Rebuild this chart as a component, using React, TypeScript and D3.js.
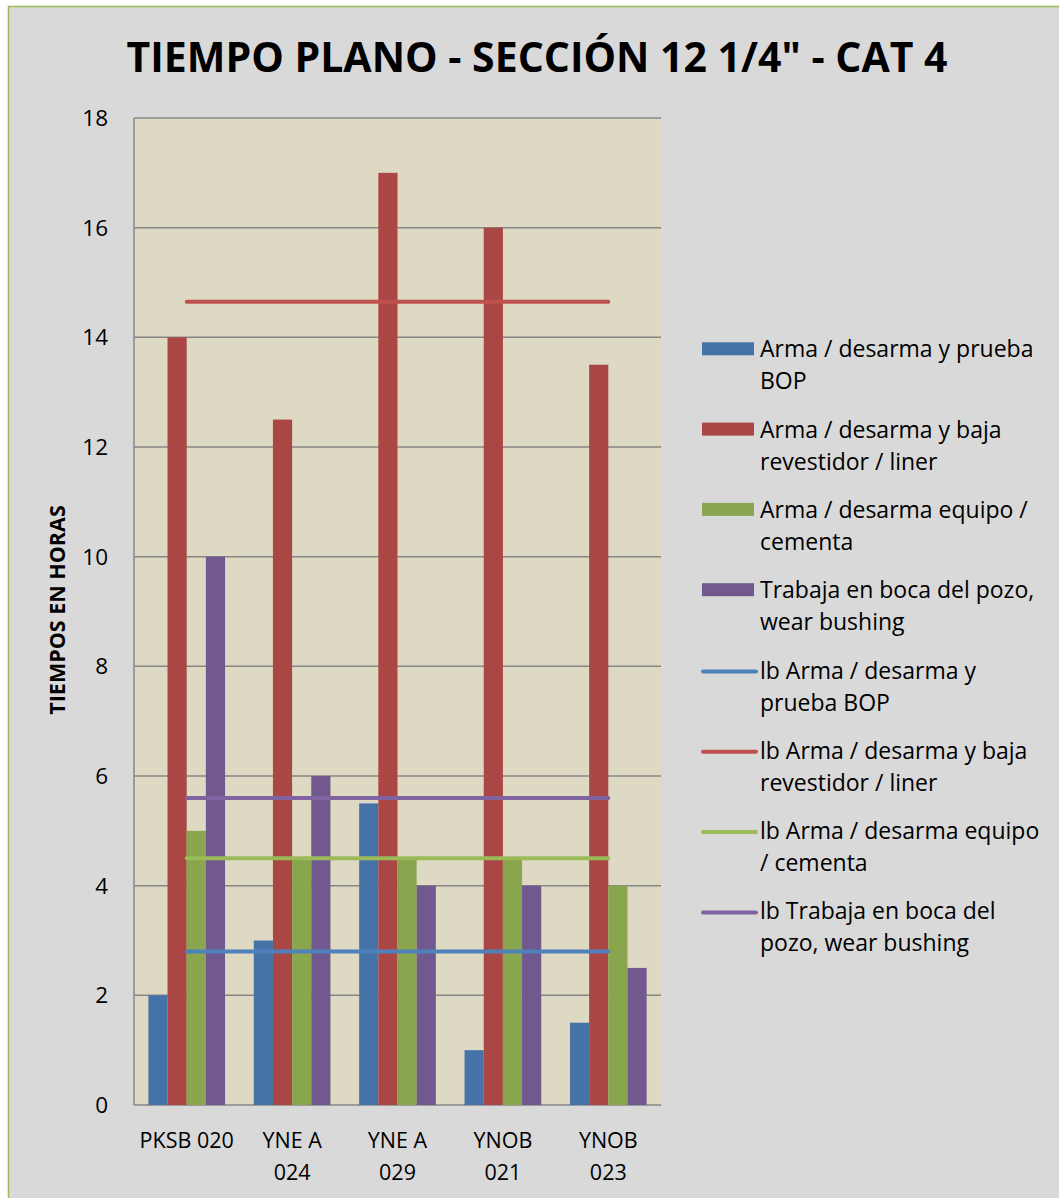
import React from "react";
import * as d3 from "d3";

const categories = ["PKSB 020", "YNE A 024", "YNE A 029", "YNOB 021", "YNOB 023"];
const categoryLines = [["PKSB 020"], ["YNE A", "024"], ["YNE A", "029"], ["YNOB", "021"], ["YNOB", "023"]];

const barSeriesNames = [
  "Arma / desarma y prueba BOP",
  "Arma / desarma y baja revestidor / liner",
  "Arma / desarma equipo / cementa",
  "Trabaja en boca del pozo, wear bushing",
];
const armaBOP = [2, 3, 5.5, 1, 1.5];
const armaRevestidor = [14, 12.5, 17, 16, 13.5];
const armaCementa = [5, 4.5, 4.5, 4.5, 4];
const trabajaBoca = [10, 6, 4, 4, 2.5];

const lineSeriesNames = [
  "lb Arma / desarma y prueba BOP",
  "lb Arma / desarma y baja revestidor / liner",
  "lb Arma / desarma equipo / cementa",
  "lb Trabaja en boca del pozo, wear bushing",
];
const lbArmaBOP = [2.8, 2.8, 2.8, 2.8, 2.8];
const lbArmaRevestidor = [14.65, 14.65, 14.65, 14.65, 14.65];
const lbArmaCementa = [4.5, 4.5, 4.5, 4.5, 4.5];
const lbTrabajaBoca = [5.6, 5.6, 5.6, 5.6, 5.6];

const yTicks = [0, 2, 4, 6, 8, 10, 12, 14, 16, 18];

const legendLines = [
  ["Arma / desarma y prueba", "BOP"],
  ["Arma / desarma y baja", "revestidor / liner"],
  ["Arma / desarma equipo /", "cementa"],
  ["Trabaja en boca del pozo,", "wear bushing"],
  ["lb Arma / desarma y", "prueba BOP"],
  ["lb Arma / desarma y baja", "revestidor / liner"],
  ["lb Arma / desarma equipo", "/ cementa"],
  ["lb Trabaja en boca del", "pozo, wear bushing"],
];

const barColors = ["#4572A7", "#AA4643", "#89A54E", "#71588F"];
const lineColors = ["#4F81BD", "#C0504D", "#9BBB59", "#8064A2"];

const FONT = "'Open Sans', 'DejaVu Sans', sans-serif";

export default function App() {
  const W = 1059;
  const H = 1198;
  const plotLeft = 134;
  const plotRight = 661;
  const plotTop = 118;
  const plotBottom = 1105;

  const y = d3.scaleLinear().domain([0, 18]).range([plotBottom, plotTop]);
  const x0 = d3
    .scaleBand<string>()
    .domain(categories)
    .range([plotLeft, plotRight])
    .paddingInner(1.5 / 5.5)
    .paddingOuter(0.75 / 5.5);
  const x1 = d3
    .scaleBand<number>()
    .domain([0, 1, 2, 3])
    .range([0, x0.bandwidth()]);

  const barSeries = [armaBOP, armaRevestidor, armaCementa, trabajaBoca];
  const lineSeries = [lbArmaBOP, lbArmaRevestidor, lbArmaCementa, lbTrabajaBoca];

  const lineGen = d3
    .line<number>()
    .x((_, i) => (x0(categories[i]) as number) + x0.bandwidth() / 2)
    .y((d) => y(d));

  const legendX = 702;
  const legendTextX = 760;
  const legendBase0 = 357.3;
  const legendStep = 80.3;
  const legendLineH = 32;

  return (
    <svg
      width={W}
      height={H}
      style={{ position: "absolute", left: 0, top: 0, display: "block" }}
      fontFamily={FONT}
    >
      <rect x={0} y={0} width={W} height={H} fill="#ffffff" />
      <rect x={8.5} y={6.5} width={W + 20} height={H + 20} fill="#D9D9D9" stroke="#9BBB59" strokeWidth={1.5} />

      <text x={537} y={71.7} textAnchor="middle" fontSize={41} fontWeight={700} fill="#000">
        TIEMPO PLANO - SECCIÓN 12 1/4" - CAT 4
      </text>

      <rect x={plotLeft} y={plotTop} width={plotRight - plotLeft} height={plotBottom - plotTop} fill="#DED9C3" />

      {yTicks.map((t) => (
        <line key={"g" + t} x1={plotLeft} x2={plotRight} y1={y(t)} y2={y(t)} stroke="#868686" strokeWidth={1.5} />
      ))}
      <line x1={plotLeft} x2={plotLeft} y1={plotTop} y2={plotBottom} stroke="#868686" strokeWidth={1.5} />

      {yTicks.map((t) => (
        <text key={"t" + t} x={108} y={y(t)} dy="0.36em" textAnchor="end" fontSize={22.5} fill="#000">
          {t}
        </text>
      ))}

      <text
        transform={`translate(65, 610) rotate(-90)`}
        textAnchor="middle"
        fontSize={21.5}
        fontWeight={700}
        fill="#000"
      >
        TIEMPOS EN HORAS
      </text>

      {barSeries.map((vals, s) =>
        vals.map((v, i) => (
          <rect
            key={`b${s}-${i}`}
            x={(x0(categories[i]) as number) + (x1(s) as number)}
            y={y(v)}
            width={x1.bandwidth()}
            height={y(0) - y(v)}
            fill={barColors[s]}
          />
        ))
      )}

      {lineSeries.map((vals, s) => (
        <path
          key={"l" + s}
          d={lineGen(vals) as string}
          fill="none"
          stroke={lineColors[s]}
          strokeWidth={4}
          strokeLinecap="round"
        />
      ))}

      {categoryLines.map((lines, i) => {
        const cx = (x0(categories[i]) as number) + x0.bandwidth() / 2;
        return (
          <text key={"x" + i} textAnchor="middle" fontSize={21.5} fill="#000">
            {lines.map((l, k) => (
              <tspan key={k} x={cx} y={1148 + k * 32}>
                {l}
              </tspan>
            ))}
          </text>
        );
      })}

      {legendLines.map((lines, i) => {
        const base = legendBase0 + i * legendStep;
        return (
          <g key={"lg" + i}>
            {i < 4 ? (
              <rect x={legendX} y={base - 15} width={52} height={13} fill={barColors[i]} />
            ) : (
              <line
                x1={legendX + 1}
                x2={legendX + 54}
                y1={base - 7}
                y2={base - 7}
                stroke={lineColors[i - 4]}
                strokeWidth={4}
                strokeLinecap="round"
              />
            )}
            <text fontSize={23} fill="#000">
              {lines.map((l, k) => (
                <tspan key={k} x={legendTextX} y={base + k * legendLineH}>
                  {l}
                </tspan>
              ))}
            </text>
          </g>
        );
      })}
    </svg>
  );
}
